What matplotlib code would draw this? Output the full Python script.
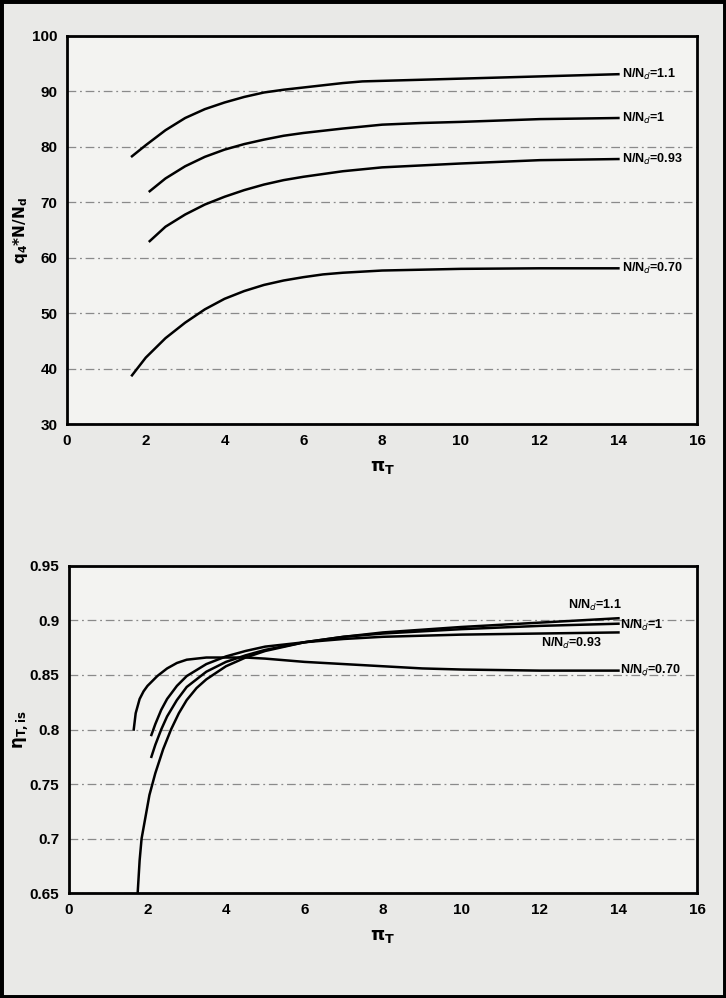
import matplotlib
matplotlib.use('Agg')
import matplotlib.pyplot as plt
from matplotlib.patches import Rectangle

plt.rcParams['font.family'] = ['Liberation Sans', 'DejaVu Sans']

# top chart: q4*N/Nd vs turbine pressure ratio
q_x_11 = [1.65, 2, 2.5, 3, 3.5, 4, 4.5, 5, 5.5, 6, 6.5, 7, 7.5, 8, 9, 10, 12, 14]
q_y_11 = [78.3, 80.3, 83.0, 85.2, 86.8, 88.0, 89.0, 89.8, 90.3, 90.7, 91.1, 91.5, 91.8, 91.9, 92.1, 92.3, 92.7, 93.1]
q_x_10 = [2.1, 2.5, 3, 3.5, 4, 4.5, 5, 5.5, 6, 7, 8, 9, 10, 12, 14]
q_y_10 = [72.0, 74.3, 76.5, 78.2, 79.5, 80.5, 81.3, 82.0, 82.5, 83.3, 84.0, 84.3, 84.5, 85.0, 85.2]
q_x_093 = [2.1, 2.5, 3, 3.5, 4, 4.5, 5, 5.5, 6, 7, 8, 10, 12, 14]
q_y_093 = [63.0, 65.6, 67.8, 69.6, 71.0, 72.2, 73.2, 74.0, 74.6, 75.6, 76.3, 77.0, 77.6, 77.8]
q_x_070 = [1.65, 2, 2.5, 3, 3.5, 4, 4.5, 5, 5.5, 6, 6.5, 7, 8, 10, 12, 14]
q_y_070 = [38.8, 42.0, 45.5, 48.3, 50.7, 52.6, 54.0, 55.1, 55.9, 56.5, 57.0, 57.3, 57.7, 58.0, 58.1, 58.1]

# bottom chart: isentropic efficiency vs turbine pressure ratio
e_x_11 = [1.75, 1.8, 1.85, 1.95, 2.05, 2.2, 2.4, 2.6, 2.8, 3, 3.25, 3.5, 4, 4.5, 5, 6, 7, 8, 10, 12, 14]
e_y_11 = [0.650, 0.680, 0.700, 0.720, 0.740, 0.760, 0.782, 0.800, 0.815, 0.827, 0.838, 0.846,
          0.858, 0.866, 0.872, 0.880, 0.885, 0.889, 0.894, 0.898, 0.902]
e_x_10 = [2.1, 2.2, 2.35, 2.5, 2.75, 3, 3.5, 4, 4.5, 5, 6, 7, 8, 10, 12, 14]
e_y_10 = [0.775, 0.786, 0.800, 0.812, 0.827, 0.839, 0.853, 0.862, 0.868, 0.873, 0.880, 0.885,
          0.888, 0.892, 0.895, 0.897]
e_x_093 = [2.1, 2.2, 2.35, 2.5, 2.75, 3, 3.5, 4, 4.5, 5, 6, 7, 8, 10, 12, 14]
e_y_093 = [0.795, 0.805, 0.818, 0.828, 0.840, 0.849, 0.860, 0.867, 0.872, 0.876, 0.880, 0.883,
           0.885, 0.887, 0.888, 0.889]
e_x_070 = [1.65, 1.7, 1.8, 1.9, 2, 2.25, 2.5, 2.75, 3, 3.5, 4, 4.5, 5, 6, 7, 8, 9, 10, 12, 14]
e_y_070 = [0.800, 0.815, 0.828, 0.835, 0.840, 0.849, 0.856, 0.861, 0.864, 0.866, 0.866, 0.866,
           0.865, 0.862, 0.860, 0.858, 0.856, 0.855, 0.854, 0.854]

x_ticks = [0, 2, 4, 6, 8, 10, 12, 14, 16]
q_ticks = [30, 40, 50, 60, 70, 80, 90, 100]
e_ticks = [0.65, 0.7, 0.75, 0.8, 0.85, 0.9, 0.95]
e_tick_labels = ['0.65', '0.7', '0.75', '0.8', '0.85', '0.9', '0.95']


def style_axes(ax, yticks, ylabels=None):
    ax.set_facecolor('#f3f3f1')
    ax.set_xlim(0, 16)
    ax.set_xticks(x_ticks)
    ax.set_yticks(yticks)
    if ylabels is not None:
        ax.set_yticklabels(ylabels)
    ax.tick_params(length=0, labelsize=11, pad=7)
    for lab in ax.get_xticklabels() + ax.get_yticklabels():
        lab.set_fontweight('bold')
    for s in ax.spines.values():
        s.set_linewidth(2.0)
    ax.grid(axis='y', color='#8a8a8a', linestyle=(0, (7, 3, 1.5, 3)), linewidth=0.9)
    ax.set_axisbelow(True)
    ax.set_xlabel(r'$\mathbf{\pi_T}$', fontsize=13, labelpad=8)


fig = plt.figure(figsize=(7.26, 9.98), dpi=100, facecolor='#e9e9e7')
fig.patches.append(Rectangle((0, 0), 1, 1, transform=fig.transFigure, fill=False,
                             edgecolor='black', linewidth=5))

ax1 = fig.add_axes([0.0923, 0.575, 0.868, 0.389])
style_axes(ax1, q_ticks)
ax1.set_ylim(30, 100)
ax1.set_ylabel(r'$\mathbf{q_4{*}N/N_d}$', fontsize=11)
ax1.yaxis.set_label_coords(-0.058, 0.5)
for xs, ys, lab in [(q_x_11, q_y_11, '1.1'), (q_x_10, q_y_10, '1'),
                    (q_x_093, q_y_093, '0.93'), (q_x_070, q_y_070, '0.70')]:
    ax1.plot(xs, ys, color='black', linewidth=1.8)
    ax1.text(xs[-1] + 0.1, ys[-1], r'N/N$_d$=' + lab, fontsize=9, fontweight='bold',
             ha='left', va='center')

ax2 = fig.add_axes([0.095, 0.105, 0.865, 0.328])
style_axes(ax2, e_ticks, e_tick_labels)
ax2.set_ylim(0.65, 0.95)
ax2.set_ylabel(r'$\mathbf{\eta_{T,is}}$', fontsize=12)
ax2.yaxis.set_label_coords(-0.062, 0.5)
for xs, ys in [(e_x_11, e_y_11), (e_x_10, e_y_10), (e_x_093, e_y_093), (e_x_070, e_y_070)]:
    ax2.plot(xs, ys, color='black', linewidth=1.8)
ax2.text(13.4, e_y_11[-1] + 0.005, r'N/N$_d$=1.1', fontsize=9, fontweight='bold', ha='center', va='bottom')
ax2.text(14.05, e_y_10[-1] - 0.002, r'N/N$_d$=1', fontsize=9, fontweight='bold', ha='left', va='center')
ax2.text(12.8, e_y_093[-1] - 0.003, r'N/N$_d$=0.93', fontsize=9, fontweight='bold', ha='center', va='top')
ax2.text(14.05, e_y_070[-1], r'N/N$_d$=0.70', fontsize=9, fontweight='bold', ha='left', va='center')

fig.savefig('out.png', dpi=100, facecolor=fig.get_facecolor())
